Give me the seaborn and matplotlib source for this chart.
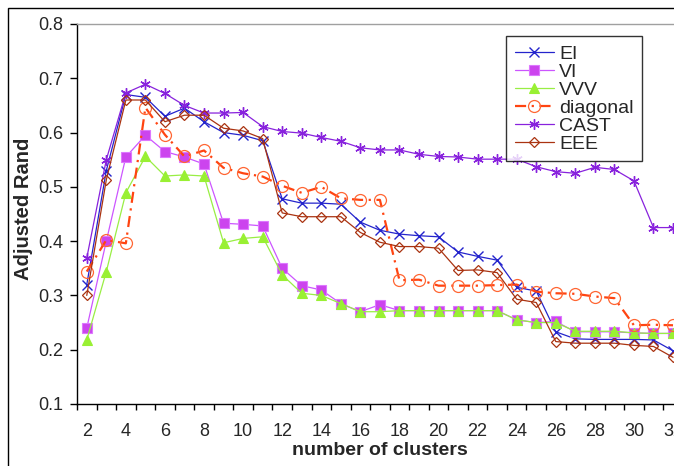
import numpy as np
import pandas as pd
import matplotlib
matplotlib.use("Agg")
import matplotlib.pyplot as plt
import seaborn as sns
from matplotlib.patches import Rectangle

# ==========================
# Data
# ==========================

clusters = list(range(2, 33))

ei = [0.32, 0.53, 0.67, 0.665, 0.63, 0.645, 0.62, 0.60, 0.595, 0.585,
      0.478, 0.47, 0.47, 0.468, 0.435, 0.42,
      0.413, 0.41, 0.408, 0.38, 0.372, 0.365,
      0.315, 0.308, 0.233, 0.22, 0.219, 0.219, 0.219, 0.218, 0.198]
vi = [0.24, 0.40, 0.555, 0.595, 0.565, 0.555, 0.542, 0.433, 0.431, 0.428,
      0.35, 0.318, 0.31, 0.285, 0.27, 0.283,
      0.272, 0.272, 0.272, 0.272, 0.272, 0.272,
      0.255, 0.25, 0.252, 0.233, 0.233, 0.233, 0.231, 0.23, 0.23]
vvv = [0.218, 0.344, 0.489, 0.556, 0.52, 0.522, 0.52, 0.397, 0.405, 0.408,
       0.338, 0.304, 0.30, 0.285, 0.27, 0.27,
       0.272, 0.272, 0.272, 0.272, 0.272, 0.272,
       0.255, 0.25, 0.25, 0.234, 0.234, 0.234, 0.231, 0.23, 0.23]
diagonal = [0.344, 0.402, 0.396, 0.646, 0.596, 0.556, 0.567, 0.535, 0.525, 0.519,
            0.502, 0.489, 0.5, 0.479, 0.476, 0.476,
            0.328, 0.329, 0.318, 0.318, 0.318, 0.319,
            0.32, 0.307, 0.304, 0.303, 0.298, 0.295, 0.245, 0.246, 0.245]
cast = [0.369, 0.55, 0.673, 0.689, 0.672, 0.65, 0.636, 0.636, 0.637, 0.611,
        0.602, 0.599, 0.591, 0.584, 0.572, 0.568,
        0.568, 0.56, 0.556, 0.555, 0.551, 0.551,
        0.551, 0.537, 0.528, 0.525, 0.536, 0.532, 0.511, 0.425, 0.425]
eee = [0.30, 0.513, 0.66, 0.66, 0.62, 0.632, 0.632, 0.608, 0.603, 0.589,
       0.452, 0.445, 0.445, 0.445, 0.416, 0.398,
       0.39, 0.39, 0.387, 0.346, 0.347, 0.342,
       0.293, 0.287, 0.215, 0.212, 0.212, 0.212, 0.208, 0.206, 0.186]

series_names = ["EI", "VI", "VVV", "diagonal", "CAST", "EEE"]
series_values = [ei, vi, vvv, diagonal, cast, eee]

x_tick_labels = [str(k) for k in range(2, 33, 2)]
y_tick_labels = ["0.1", "0.2", "0.3", "0.4", "0.5", "0.6", "0.7", "0.8"]

df = pd.DataFrame({"clusters": clusters})
for name, vals in zip(series_names, series_values):
    df[name] = vals

# ==========================
# Style
# ==========================

sns.set_style("ticks")
plt.rcParams["font.family"] = ["Liberation Sans", "DejaVu Sans"]

styles = {
    "EI": dict(color="#2424cc", marker="x", ms=6.5, mfc="#2424cc", mec="#2424cc",
               mew=1.0, lw=0.9, ls="-"),
    "VI": dict(color="#cc55ff", marker="s", ms=7.2, mfc="#cc44ee", mec="#dd77ff",
               mew=0.8, lw=0.9, ls="-"),
    "VVV": dict(color="#99ee44", marker="^", ms=7.4, mfc="#99f033", mec="#99f033",
                mew=0.8, lw=0.9, ls="-"),
    "diagonal": dict(color="#ff4411", marker="o", ms=8.6, mfc="none", mec="#ff6633",
                     mew=0.9, lw=1.6, ls=(0, (5, 2.5, 1, 2.5))),
    "CAST": dict(color="#8822dd", marker=(6, 2, 0), ms=7.5, mfc="#8822dd", mec="#8822dd",
                 mew=1.0, lw=0.9, ls="-"),
    "EEE": dict(color="#aa3311", marker="D", ms=5.2, mfc="none", mec="#aa3311",
                mew=0.9, lw=0.9, ls="-"),
}

# ==========================
# Plot
# ==========================

fig = plt.figure(figsize=(6.74, 4.66), dpi=100)
ax = fig.add_axes([77 / 674, 62 / 466, 597 / 674, 380 / 466])

for name in series_names:
    st = styles[name]
    sns.lineplot(data=df, x="clusters", y=name, ax=ax, label=name,
                 color=st["color"], marker=st["marker"], markersize=st["ms"],
                 markerfacecolor=st["mfc"], markeredgecolor=st["mec"],
                 markeredgewidth=st["mew"], linewidth=st["lw"],
                 linestyle=st["ls"])

ax.set_yticks(np.arange(0.1, 0.81, 0.1))
ax.set_yticklabels(y_tick_labels)
ax.set_xticks(range(2, 33, 2))
ax.set_xticklabels(x_tick_labels)
ax.set_xticks(np.arange(1.5, 33, 1), minor=True)

# limits after the ticks, set_xticks would widen them
ax.set_xlim(1.5, 32.05)
ax.set_ylim(0.1, 0.8)

ax.tick_params(axis="y", which="major", direction="out", length=5, width=1,
               color="black", pad=5, labelsize=13)
ax.tick_params(axis="x", which="major", length=0, pad=13.5, labelsize=13)
ax.tick_params(axis="x", which="minor", direction="out", length=4.5, width=1,
               color="black")

for side in ["left", "bottom"]:
    ax.spines[side].set_color("black")
    ax.spines[side].set_linewidth(1)
ax.spines["top"].set_color("#a0a0a0")
ax.spines["top"].set_linewidth(1)
ax.spines["right"].set_visible(False)

ax.set_xlabel("number of clusters", fontsize=14, fontweight="bold")
ax.set_ylabel("Adjusted Rand", fontsize=14.5, fontweight="bold")
ax.xaxis.set_label_coords(0.508, -0.1)
ax.yaxis.set_label_coords(-0.073, 0.513)

leg = ax.legend(loc="upper left", bbox_to_anchor=(0.7186, 0.968), borderaxespad=0,
                frameon=True, fancybox=False, fontsize=14, handlelength=2.0,
                handletextpad=0.27, labelspacing=0.02, borderpad=0.45)
leg.get_frame().set_edgecolor("black")
leg.get_frame().set_linewidth(1)

# outer chart frame (cropped at the right and bottom)
fig.add_artist(Rectangle((8 / 674, -0.5), 2, (466 - 8) / 466 + 0.5,
                         transform=fig.transFigure, fill=False,
                         edgecolor="black", linewidth=1))

fig.savefig("out.png", dpi=100)
